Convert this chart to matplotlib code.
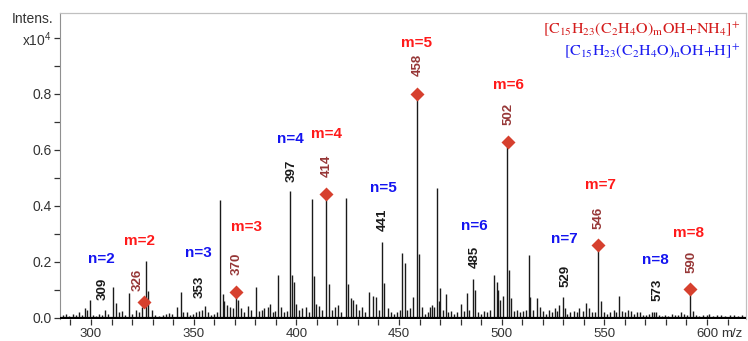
import matplotlib
matplotlib.use("Agg")
import matplotlib.pyplot as plt

# -------- data --------
peak_mz = [286.5, 288, 289.5, 291, 292.5, 294, 295.5, 297, 298, 299.5, 301, 302.5, 304, 305.5,
           306.8, 308.5, 310.7, 312.2, 313.5, 315, 316.5, 318.5, 320, 322, 323.5, 324.8, 326.6,
           327.8, 329.7, 331, 333, 335, 336.5, 338, 339.5, 341.9, 343.8, 345, 346.6, 348, 349.5,
           351, 352.5, 354, 355.3, 357, 358.5, 360, 361.5, 362.8, 364.1, 365, 366, 367.5, 369,
           370.8, 371.8, 373, 374.5, 376.5, 378, 380.4, 382, 383.5, 384.5, 386, 387, 388.5, 389.5,
           391.3, 392.5, 394, 395.5, 397.1, 397.9, 399, 400, 401.5, 403, 404.5, 406, 407.6, 408.4,
           409.5, 411, 412.5, 414.5, 416, 417.5, 419, 420.5, 422, 424.4, 425.4, 426.5, 427.5, 429,
           430.5, 432, 433.5, 435.6, 437.2, 438.8, 440.3, 441.7, 442.9, 444.5, 446, 447.5, 449,
           450.3, 451.6, 452.8, 454, 455.5, 456.6, 458.9, 459.6, 461, 462.5, 464, 465, 466, 467,
           468.7, 469.5, 470, 471.5, 472.8, 474, 475.5, 477, 478.5, 480, 481.5, 483, 484.3, 486,
           487, 488.5, 490, 491.5, 493, 494.5, 496.5, 497.5, 498.2, 499, 500.8, 502.8, 503.6, 504.5,
           506, 507.5, 509, 510.5, 512, 513.3, 514, 515.5, 517.1, 518.5, 520, 521.5, 523, 524.5,
           526, 527, 528.1, 529.7, 530.8, 532, 533.5, 535, 536.5, 537.8, 539.5, 541.1, 542.5, 544,
           545.5, 547.1, 548.5, 550, 551.5, 553, 554.5, 555.8, 557.2, 558.5, 560, 561.5, 563, 564.5,
           566, 567.5, 569, 570.5, 572, 573.2, 574.2, 575.2, 576.5, 578, 579.5, 581, 583, 584.5,
           586, 587.5, 589, 590.5, 591.8, 593, 594.5, 596, 598, 600, 601, 603, 605, 607, 609, 611,
           613, 615, 617]
peak_int = [0.012, 0.014, 0.008, 0.015, 0.010, 0.020, 0.012, 0.037, 0.030, 0.064, 0.012, 0.008,
            0.015, 0.010, 0.030, 0.015, 0.110, 0.055, 0.020, 0.025, 0.012, 0.088, 0.015, 0.030,
            0.020, 0.040, 0.205, 0.097, 0.030, 0.012, 0.008, 0.012, 0.015, 0.018, 0.015, 0.040,
            0.093, 0.020, 0.020, 0.012, 0.015, 0.020, 0.025, 0.030, 0.043, 0.020, 0.012, 0.015,
            0.020, 0.420, 0.086, 0.060, 0.045, 0.040, 0.035, 0.090, 0.065, 0.035, 0.020, 0.043,
            0.030, 0.110, 0.025, 0.030, 0.035, 0.040, 0.050, 0.020, 0.025, 0.154, 0.040, 0.020,
            0.025, 0.454, 0.154, 0.130, 0.050, 0.030, 0.035, 0.040, 0.020, 0.425, 0.150, 0.050,
            0.043, 0.030, 0.440, 0.120, 0.030, 0.040, 0.045, 0.020, 0.430, 0.120, 0.070, 0.065,
            0.050, 0.030, 0.040, 0.020, 0.092, 0.080, 0.075, 0.030, 0.273, 0.126, 0.035, 0.020,
            0.015, 0.020, 0.030, 0.232, 0.198, 0.030, 0.035, 0.076, 0.800, 0.230, 0.040, 0.015,
            0.020, 0.040, 0.045, 0.040, 0.463, 0.060, 0.107, 0.030, 0.085, 0.020, 0.025, 0.015,
            0.020, 0.050, 0.025, 0.088, 0.030, 0.139, 0.100, 0.020, 0.015, 0.025, 0.020, 0.030,
            0.154, 0.130, 0.100, 0.065, 0.080, 0.610, 0.170, 0.070, 0.025, 0.030, 0.020, 0.025,
            0.030, 0.225, 0.075, 0.030, 0.070, 0.040, 0.025, 0.015, 0.030, 0.020, 0.035, 0.025,
            0.046, 0.074, 0.035, 0.015, 0.020, 0.025, 0.020, 0.035, 0.025, 0.055, 0.035, 0.020,
            0.020, 0.261, 0.060, 0.020, 0.015, 0.020, 0.030, 0.020, 0.079, 0.025, 0.020, 0.030,
            0.025, 0.015, 0.020, 0.020, 0.012, 0.010, 0.015, 0.020, 0.022, 0.020, 0.010, 0.008,
            0.012, 0.008, 0.015, 0.010, 0.012, 0.020, 0.015, 0.012, 0.102, 0.025, 0.010, 0.008,
            0.010, 0.012, 0.015, 0.008, 0.012, 0.010, 0.008, 0.012, 0.010, 0.008, 0.010]

# ammonium adduct series (diamonds)
m_mz = [326.0, 370.5, 414.5, 458.9, 503.0, 547.1, 591.8]
m_int = [0.057, 0.093, 0.442, 0.799, 0.627, 0.261, 0.102]
m_labels = ["326", "370", "414", "458", "502", "546", "590"]
m_names = ["m=2", "m=3", "m=4", "m=5", "m=6", "m=7", "m=8"]

# protonated series
n_labels = ["309", "353", "397", "441", "485", "529", "573"]
n_names = ["n=2", "n=3", "n=4", "n=5", "n=6", "n=7", "n=8"]

# -------- layout of the annotations (x in m/z, y in intensity) --------
m_num_pos = [(322.9, 0.136), (371.1, 0.193), (415.0, 0.543), (459.3, 0.904),
             (503.6, 0.729), (547.4, 0.357), (592.7, 0.200)]
n_num_pos = [(305.8, 0.104), (353.1, 0.111), (397.9, 0.525), (442.2, 0.350),
             (487.0, 0.218), (530.9, 0.150), (575.7, 0.100)]
m_name_pos = [(323.4, 0.275), (375.5, 0.325), (414.9, 0.657), (458.3, 0.982),
              (503.1, 0.832), (547.9, 0.475), (590.8, 0.304)]
n_name_pos = [(304.9, 0.211), (352.1, 0.232), (396.9, 0.639), (442.2, 0.464),
              (486.6, 0.329), (530.4, 0.282), (574.7, 0.207)]

SANS = "Liberation Sans"
RED = "#ff1a1a"
BLUE = "#1414f0"
BROWN = "#963636"

plt.rcParams["font.family"] = SANS
plt.rcParams["mathtext.fontset"] = "custom"
plt.rcParams["mathtext.rm"] = SANS

fig = plt.figure(figsize=(7.48, 3.41), dpi=100)
ax = fig.add_axes([0.0802, 0.0642, 0.9171, 0.8986])

ax.vlines(peak_mz, 0, peak_int, color="#1a1a1a", lw=1.0)
ax.axhline(0, color="black", lw=1.6, zorder=3)
ax.plot(m_mz, m_int, "D", color="#d6402e", ms=7, mec="none", zorder=4)

for lab, (x, y) in zip(m_labels, m_num_pos):
    ax.text(x, y, lab, rotation=90, ha="center", va="center", fontsize=9.5,
            fontweight="bold", color=BROWN)
for lab, (x, y) in zip(n_labels, n_num_pos):
    ax.text(x, y, lab, rotation=90, ha="center", va="center", fontsize=9.5,
            fontweight="bold", color="#1a1a1a")
for lab, (x, y) in zip(m_names, m_name_pos):
    ax.text(x, y, lab, ha="center", va="center", fontsize=11, fontweight="bold", color=RED)
for lab, (x, y) in zip(n_names, n_name_pos):
    ax.text(x, y, lab, ha="center", va="center", fontsize=11, fontweight="bold", color=BLUE)

# formulas, top right
ax.text(0.992, 0.945, r"$[\mathrm{C_{15}H_{23}(C_2H_4O)_mOH{+}NH_4}]^{+}$", transform=ax.transAxes,
        ha="right", va="center", fontsize=11.5, color="#d41c1c", math_fontfamily="stix")
ax.text(0.992, 0.875, r"$[\mathrm{C_{15}H_{23}(C_2H_4O)_nOH{+}H}]^{+}$", transform=ax.transAxes,
        ha="right", va="center", fontsize=11.5, color="#1c1cf0", math_fontfamily="stix")

ax.set_xlim(284.9, 619)
ax.set_ylim(-0.004, 1.09)
ax.set_xticks([300, 350, 400, 450, 500, 550, 600])
ax.set_xticks(range(290, 620, 10), minor=True)
ax.set_yticks([0, 0.2, 0.4, 0.6, 0.8, 1.0])
ax.set_yticklabels(["0.0", "0.2", "0.4", "0.6", "0.8", r"x10$^{4}$"])
ax.set_yticks([0.1, 0.3, 0.5, 0.7, 0.9], minor=True)
ax.tick_params(which="both", direction="out", length=4, width=0.9, color="#333333",
               labelsize=10, labelcolor="#333333")
ax.tick_params(axis="x", pad=2.5, labelsize=9.5)
ax.tick_params(axis="y", pad=2)

for side in ("top", "right"):
    ax.spines[side].set_color("#c0c0c0")
    ax.spines[side].set_linewidth(0.9)
ax.spines["left"].set_color("#909090")
ax.spines["bottom"].set_visible(False)

ax.annotate("m/z", xy=(612, 0), xycoords=("data", "axes fraction"), xytext=(0, -6.3),
            textcoords="offset points", ha="center", va="top", fontsize=9.5, color="#333333")
fig.text(53 / 748, 1 - 19 / 341, "Intens.", ha="right", va="center", fontsize=10, color="#333333")

fig.savefig("out.png", dpi=100)
